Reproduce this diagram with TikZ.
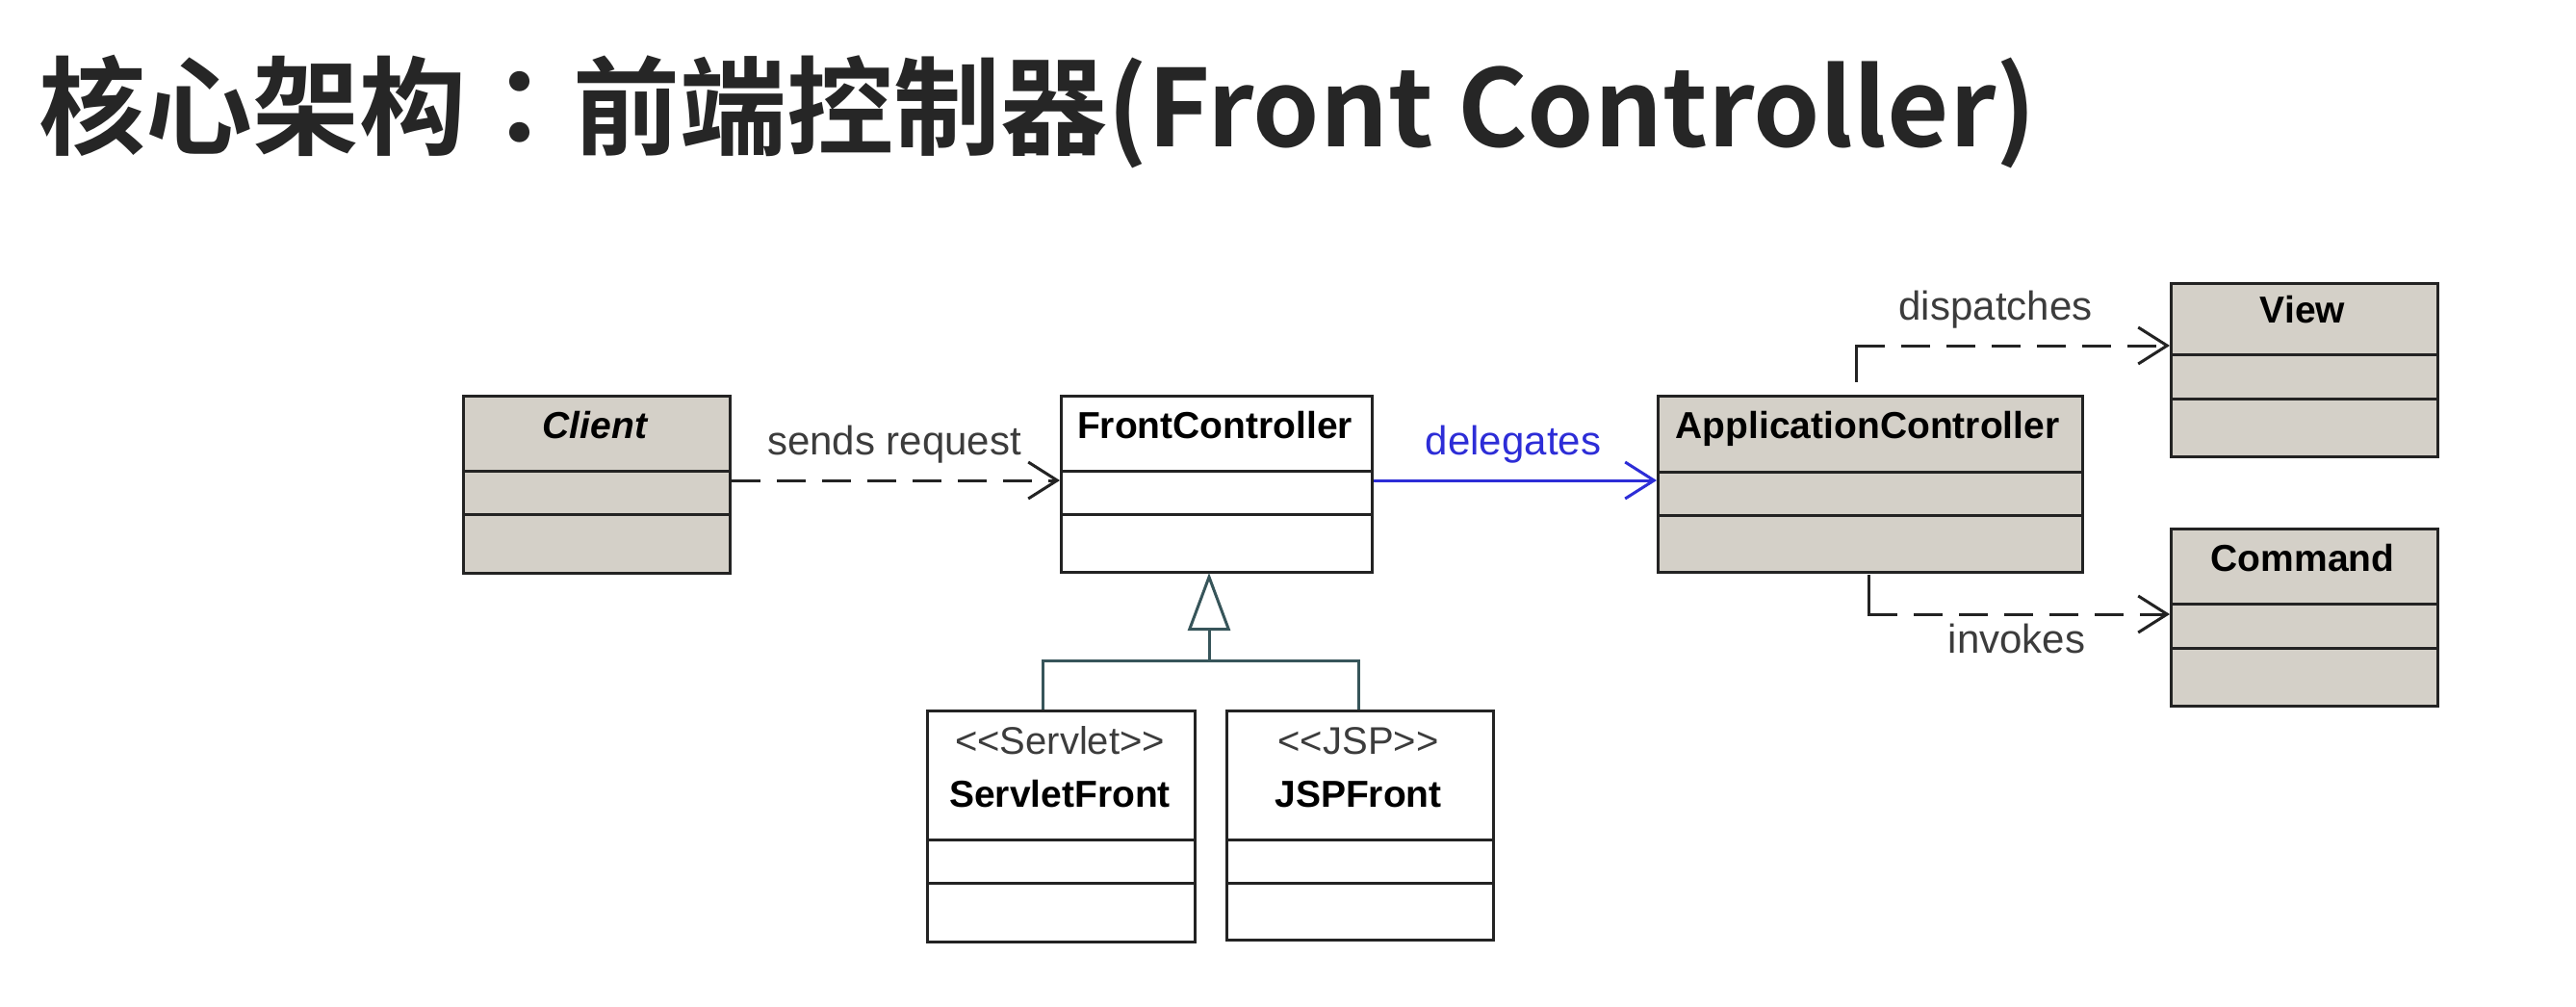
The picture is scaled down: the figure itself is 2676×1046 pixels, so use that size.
\documentclass[tikz,border=0pt]{standalone}
\usepackage{fontspec}
\setmainfont{Liberation Sans}
\newfontfamily\cjk{Noto Sans CJK SC}[BoldFont={Noto Sans CJK SC Bold}]
\newfontfamily\cjktc{Noto Sans CJK TC}[BoldFont={Noto Sans CJK TC Bold}]
\usetikzlibrary{arrows.meta}
\definecolor{umlgray}{RGB}{212,208,200}
\definecolor{lineblk}{RGB}{35,35,35}
\definecolor{genline}{RGB}{55,85,90}
\definecolor{delblue}{RGB}{45,45,215}
\definecolor{labelgray}{RGB}{60,60,60}
\definecolor{titlecol}{RGB}{38,38,38}
\begin{document}
\begin{tikzpicture}[x=1pt,y=-1pt,
  classbox/.style={draw=lineblk, line width=3pt, anchor=north west, inner sep=0pt},
  graybox/.style={classbox, fill=umlgray},
  whitebox/.style={classbox, fill=white},
  divider/.style={draw=lineblk, line width=3pt},
  cname/.style={anchor=base, inner sep=0pt, text=black, font=\bfseries\fontsize{39}{46}\selectfont},
  stereo/.style={anchor=base, inner sep=0pt, text=labelgray, font=\fontsize{40}{46}\selectfont},
  rellabel/.style={anchor=base, inner sep=0pt, text=labelgray, font=\fontsize{42}{48}\selectfont},
  solidline/.style={draw=lineblk, line width=3pt, line cap=rect},
  dep/.style={draw=lineblk, line width=3pt, dash pattern=on 30pt off 17pt,
    -{Straight Barb[length=30pt,width=38pt]}},
  deleg/.style={draw=delblue, line width=3pt, -{Straight Barb[length=30pt,width=38pt]}},
  genl/.style={draw=genline, line width=3pt}
]
\useasboundingbox[fill=white] (0,0) rectangle (2676,1046);

% title
\node[anchor=base west, inner sep=0pt, text=titlecol, font=\cjk\bfseries\fontsize{111}{130}\selectfont] (title) at (40,153) {核心架构{\cjktc ：}前端控制器(Front Controller)};

% boxes
\node[graybox, minimum width=277pt, minimum height=184pt] (client) at (480,410) {};
\node[whitebox, minimum width=323pt, minimum height=183pt] (fc) at (1101,410) {};
\node[graybox, minimum width=441pt, minimum height=183pt] (app) at (1721,410) {};
\node[graybox, minimum width=277pt, minimum height=180pt] (view) at (2254,293) {};
\node[graybox, minimum width=277pt, minimum height=184pt] (cmd) at (2254,548) {};
\node[whitebox, minimum width=278pt, minimum height=240pt] (servlet) at (962,737) {};
\node[whitebox, minimum width=277pt, minimum height=238pt] (jsp) at (1273,737) {};

% dividers
\foreach \b/\ya/\yb in {client/489/534, fc/489/534, app/490/535, view/368/414, cmd/627/673, servlet/872/917, jsp/872/917}{
  \draw[divider] (\b.west |- 0,\ya) -- (\b.east |- 0,\ya);
  \draw[divider] (\b.west |- 0,\yb) -- (\b.east |- 0,\yb);
}

% names
\node[cname, font=\bfseries\itshape\fontsize{39}{46}\selectfont] (nclient) at (618,455) {Client};
\node[cname] (nfc) at (1262,455) {FrontController};
\node[cname] (napp) at (1940,455) {ApplicationController};
\node[cname] (nview) at (2392,335) {View};
\node[cname] (ncmd) at (2392,593) {Command};
\node[stereo] (sservlet) at (1101,783) {<{}<Servlet>{}>};
\node[cname] (nservlet) at (1101,838) {ServletFront};
\node[stereo] (sjsp) at (1411,783) {<{}<JSP>{}>};
\node[cname] (njsp) at (1411,838) {JSPFront};

% sends request
\draw[dep] (client.east |- 0,499) -- (fc.west |- 0,499);
\node[rellabel] (lsend) at (929,472) {sends request};

% delegates
\draw[deleg] (fc.east |- 0,499) -- (app.west |- 0,499);
\node[rellabel, text=delblue] (ldeleg) at (1572,472) {delegates};

% dispatches
\coordinate (dstart) at (1928,395);
\coordinate (dcorner) at (1928,359);
\draw[solidline] (dstart) -- (dcorner);
\draw[dep] (dcorner) -- (view.west |- dcorner);
\node[rellabel] (ldisp) at (2073,332) {dispatches};

% invokes
\coordinate (istart) at (1941,598);
\coordinate (icorner) at (1941,638);
\draw[solidline] (istart) -- (icorner);
\draw[dep] (icorner) -- (cmd.west |- icorner);
\node[rellabel] (linv) at (2095,678) {invokes};

% generalization
\coordinate (gl) at (1083,686);
\coordinate (gr) at (1411,686);
\coordinate (gm) at (1256,686);
\coordinate (gtip) at (1256,595);
\draw[genl] (servlet.north -| gl) -- (gl) -- (gr) -- (jsp.north -| gr);
\draw[genl, -{Triangle[open, length=60pt, width=44pt]}] (gm) -- (gtip);
\end{tikzpicture}
\end{document}
